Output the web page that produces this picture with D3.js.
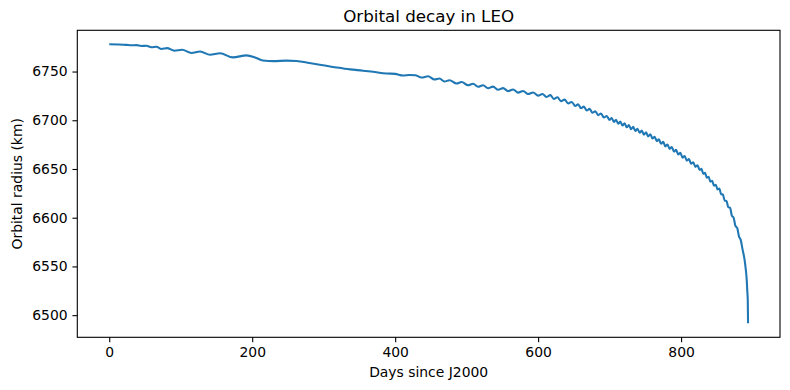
<!DOCTYPE html>
<html>
<head>
<meta charset="utf-8">
<script src="https://cdn.jsdelivr.net/npm/d3@7"></script>
<style>
body { margin: 0; background: #fff; }
text { font-family: "DejaVu Sans", sans-serif; fill: #000; }
</style>
</head>
<body>
<div class="main"></div>
<script>
// days since J2000 and orbital radius (km)
var days = [
  0, 12, 24, 31, 38, 45, 52, 59, 66, 73, 81, 91, 102, 115, 127, 141, 155, 173, 192,
  204, 215, 230, 248, 262, 280, 299, 318, 337, 355, 369, 388,
  400, 411, 420, 428, 437, 446, 455, 462, 469, 476, 486, 493, 502,
  509, 516, 523, 530, 537, 544, 551, 558, 565, 572, 579, 586, 593, 600, 606, 612,
  617, 622, 627, 632, 637, 642, 647, 652, 656, 660, 664, 668, 672, 676, 680, 684, 688, 692, 696, 700,
  703, 706, 709, 712, 715, 718, 721, 724, 727, 730, 733, 736, 739, 742, 745, 748, 751, 754, 757, 760, 763,
  766, 769, 772, 775, 778, 781, 784, 787, 790, 793, 796, 799, 802, 805, 808, 811, 814, 817, 820, 823, 826,
  828.5, 831, 833.5, 836, 838.5, 841, 843.5, 846, 848.5, 851, 853.5, 856, 858.5, 861, 863.5, 866, 868.5, 871, 873.5, 876, 878.5, 881,
  883.5, 886, 889, 890.5, 891.9, 892.6, 893.3, 893.7
];
var radius = [
  6778.0, 6777.8, 6777.4, 6776.9, 6777.1, 6776.2, 6776.4, 6775.0, 6775.4, 6773.2, 6774.0, 6771.4, 6772.3, 6769.0, 6770.6, 6767.2, 6768.8, 6764.5, 6766.6,
  6764.5, 6761.3, 6760.7, 6761.2, 6760.8, 6758.8, 6756.5, 6754.2, 6752.2, 6750.9, 6749.7, 6748.0,
  6747.6, 6746.0, 6746.4, 6746.2, 6743.8, 6745.2, 6741.8, 6742.8, 6739.7, 6741.1, 6737.7, 6739.3, 6735.9,
  6737.5, 6734.4, 6736.0, 6732.9, 6734.5, 6731.3, 6733.0, 6729.9, 6731.6, 6728.4, 6730.1, 6726.9, 6728.5, 6725.3, 6727.0, 6723.9,
  6725.8, 6721.9, 6723.6, 6719.6, 6721.2, 6717.2, 6718.8, 6714.7, 6716.4, 6712.4, 6714.0, 6710.0, 6711.7, 6707.7, 6709.3, 6705.3, 6706.9, 6702.8, 6704.4, 6700.4,
  6702.3, 6698.2, 6700.5, 6696.4, 6698.7, 6694.6, 6696.9, 6692.8, 6695.0, 6690.9, 6693.2, 6689.0, 6691.3, 6687.2, 6689.4, 6685.3, 6687.6, 6683.5, 6685.7, 6681.2, 6683.1,
  6678.6, 6680.4, 6675.9, 6677.8, 6673.2, 6675.1, 6670.6, 6672.5, 6667.9, 6669.6, 6664.9, 6666.5, 6661.7, 6663.4, 6658.6, 6660.2, 6655.4, 6657.0, 6652.2, 6653.8, 6649.0,
  6650.1, 6645.1, 6646.0, 6641.0, 6642.0, 6637.0, 6637.9, 6632.9, 6633.9, 6628.9, 6629.9, 6624.1, 6623.8, 6617.5, 6617.2, 6610.8, 6610.3, 6602.2, 6600.0, 6591.7, 6589.5, 6580.8,
  6577.0, 6567.5, 6556.0, 6547.0, 6535.5, 6525.0, 6515.0, 6491.6
];
var xTicks = [0, 200, 400, 600, 800];
var yTicks = [6500, 6550, 6600, 6650, 6700, 6750];

const margin = {top: 30.3, right: 10, bottom: 52.7, left: 77.3};
const width = 790 - margin.left - margin.right;
const height = 390 - margin.top - margin.bottom;

var data = days.map(function(d, i) { return {day: d, r: radius[i]}; });

var svg = d3.select(".main").append("svg")
    .attr("width", width + margin.left + margin.right)
    .attr("height", height + margin.top + margin.bottom)
    .style("display", "block")
    .append("g")
    .attr("transform", `translate(${margin.left},${margin.top})`);

// matplotlib style 5% padding
var xExt = d3.extent(days), yExt = d3.extent(radius);
var xPad = (xExt[1] - xExt[0]) * 0.05, yPad = (yExt[1] - yExt[0]) * 0.05;

var x = d3.scaleLinear()
    .domain([xExt[0] - xPad, xExt[1] + xPad])
    .range([0, width]);

var y = d3.scaleLinear()
    .domain([yExt[0] - yPad, yExt[1] + yPad])
    .range([height, 0]);

var xAxis = svg.append("g")
    .attr("transform", "translate(0," + height + ")")
    .call(d3.axisBottom(x).tickValues(xTicks).tickFormat(d3.format("d"))
        .tickSize(4.86).tickPadding(4.86).tickSizeOuter(0));

var yAxis = svg.append("g")
    .call(d3.axisLeft(y).tickValues(yTicks).tickFormat(d3.format("d"))
        .tickSize(4.86).tickPadding(4.86).tickSizeOuter(0));

[xAxis, yAxis].forEach(function(a) {
    a.attr("font-size", "13.9px").attr("font-family", "DejaVu Sans, sans-serif");
    a.select(".domain").remove();
    a.selectAll(".tick line").attr("stroke", "#000").attr("stroke-width", 1.1);
    a.selectAll(".tick text").attr("fill", "#000");
});

svg.append("path")
    .datum(data)
    .attr("fill", "none")
    .attr("stroke", "#1f77b4")
    .attr("stroke-width", 2.08)
    .attr("stroke-linejoin", "round")
    .attr("d", d3.line()
        .x(function(d) { return x(d.day); })
        .y(function(d) { return y(d.r); })
        .curve(d3.curveMonotoneX));

// frame
svg.append("rect")
    .attr("x", 0)
    .attr("y", 0)
    .attr("width", width)
    .attr("height", height)
    .style("fill", "none")
    .style("stroke", "#000")
    .style("stroke-width", 1.1);

svg.append("text")
    .attr("x", width / 2)
    .attr("y", -8.5)
    .attr("text-anchor", "middle")
    .style("font-size", "16.7px")
    .text("Orbital decay in LEO");

svg.append("text")
    .attr("x", width / 2)
    .attr("y", height + 39.7)
    .attr("text-anchor", "middle")
    .style("font-size", "13.9px")
    .text("Days since J2000");

svg.append("text")
    .attr("transform", `translate(${22.4 - margin.left},${height / 2}) rotate(-90)`)
    .attr("text-anchor", "middle")
    .style("font-size", "13.9px")
    .text("Orbital radius (km)");
</script>
</body>
</html>
